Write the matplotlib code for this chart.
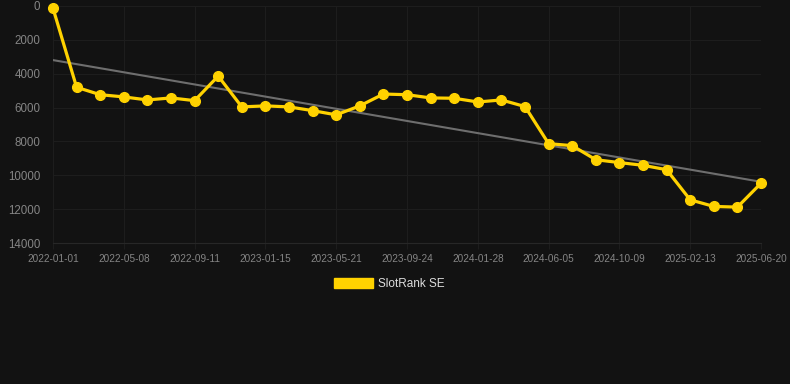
import matplotlib
matplotlib.use("Agg")
import matplotlib.pyplot as plt
import numpy as np
from matplotlib.patches import Patch

# rank per sample (lower on the chart = worse rank), one point roughly every 6 weeks
ranks = [135, 4800, 5240, 5370, 5550, 5430, 5590, 4140, 5960, 5900, 5960,
         6180, 6430, 5900, 5200, 5240, 5430, 5450, 5670, 5550, 5940,
         8130, 8250, 9080, 9250, 9410, 9670, 11450, 11840, 11880, 10470]
tick_labels = ["2022-01-01", "2022-05-08", "2022-09-11", "2023-01-15",
               "2023-05-21", "2023-09-24", "2024-01-28", "2024-06-05",
               "2024-10-09", "2025-02-13", "2025-06-20"]
y_ticks = [0, 2000, 4000, 6000, 8000, 10000, 12000, 14000]

BG = "#121212"
GOLD = "#FFD200"
GRID = "#1d1d1d"

plt.rcParams["font.family"] = ["Liberation Sans", "DejaVu Sans"]

fig = plt.figure(figsize=(7.9, 3.84), dpi=100, facecolor=BG)
ax = fig.add_axes([53 / 790, 1 - 243 / 384, (761 - 53) / 790, (243 - 6) / 384])
ax.set_facecolor(BG)

x = np.arange(len(ranks))
slope, icept = np.polyfit(x, ranks, 1)
ax.plot(x, slope * x + icept, color="#6e6e6e", lw=1.5, zorder=2)
ax.plot(x, ranks, color=GOLD, lw=2.3, marker="o", ms=7, clip_on=False, zorder=3)

ax.set_xlim(0, len(ranks) - 1)
ax.set_ylim(14000, 0)
ax.set_xticks(x[::3])
ax.set_xticklabels(tick_labels)
ax.set_yticks(y_ticks)

ax.grid(True, color=GRID, lw=0.8)
ax.set_axisbelow(True)
for side in ("top", "right", "left"):
    ax.spines[side].set_visible(False)
ax.spines["bottom"].set_color("#272727")
ax.tick_params(axis="x", colors="#858585", labelsize=7.2, length=4, color=GRID, pad=4)
ax.tick_params(axis="y", colors="#858585", labelsize=8.3, length=0, pad=9)

fig.legend(handles=[Patch(color=GOLD, label="SlotRank SE")], loc="center",
           bbox_to_anchor=(0.493, 1 - 284 / 384), frameon=False, fontsize=8.5,
           labelcolor="#dddddd", handlelength=3.3, handleheight=1.0, handletextpad=0.45)

fig.savefig("out.png", dpi=100, facecolor=BG)
